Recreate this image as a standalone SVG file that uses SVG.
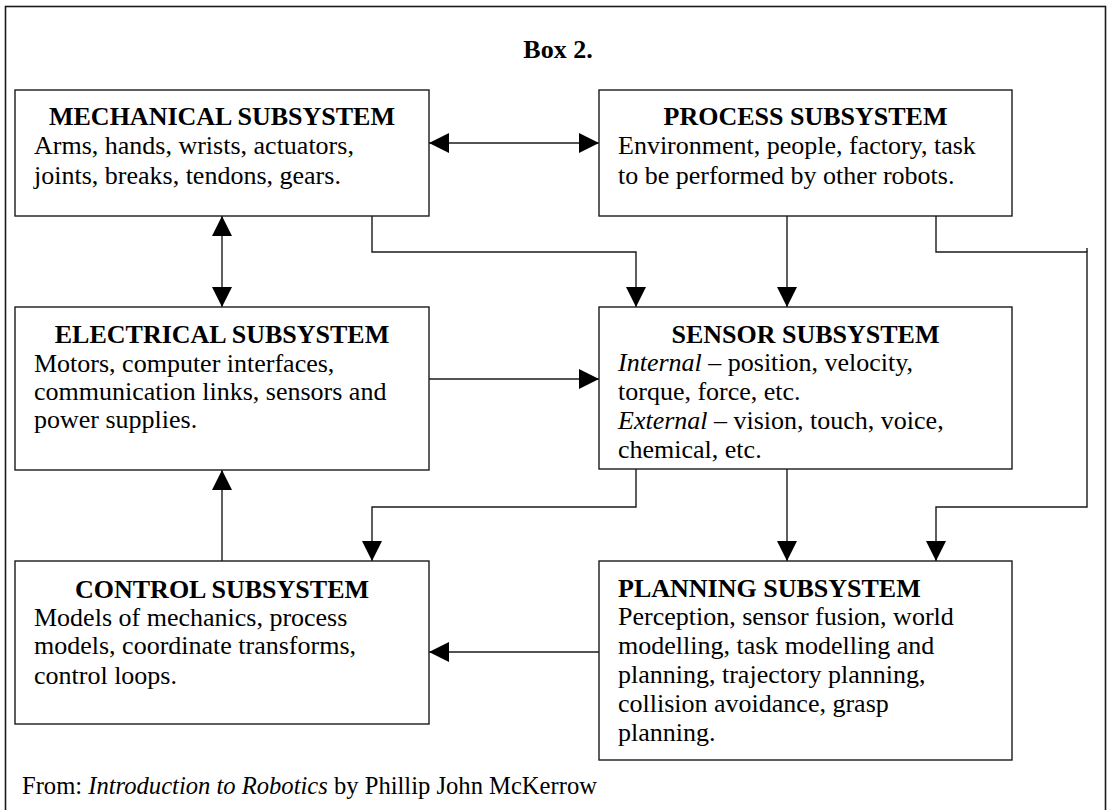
<svg xmlns="http://www.w3.org/2000/svg" width="1110" height="810" viewBox="0 0 1110 810">
<style>
  text { font-family: "Liberation Serif", "Times New Roman", serif; fill: #000; }
  .title { font-size: 26px; font-weight: bold; }
  .body { font-size: 26px; }
  .box { fill: #fff; stroke: #1a1a1a; stroke-width: 1.4; }
  .frame { fill: none; stroke: #1a1a1a; stroke-width: 1.6; }
  .conn { fill: none; stroke: #1a1a1a; stroke-width: 1.4; }
  .foot { font-size: 24.6px; }
</style>
<defs>
  <marker id="arr" markerUnits="userSpaceOnUse" markerWidth="20" markerHeight="20" refX="20" refY="10" orient="auto-start-reverse" viewBox="0 0 20 20">
    <path d="M0,0 L20,10 L0,20 z" fill="#000"/>
  </marker>
</defs>
<rect width="1110" height="810" fill="#fff"/>
<rect class="frame" x="5.5" y="6.5" width="1100" height="830"/>
<text class="title" x="558" y="58" text-anchor="middle" font-size="25">Box 2.</text>

<g id="connectors">
  <path class="conn" d="M429,143 H599" marker-start="url(#arr)" marker-end="url(#arr)"/>
  <path class="conn" d="M222,216 V307" marker-start="url(#arr)" marker-end="url(#arr)"/>
  <path class="conn" d="M372,216 V252 H636 V307" marker-end="url(#arr)"/>
  <path class="conn" d="M787,216 V307" marker-end="url(#arr)"/>
  <path class="conn" d="M936,216 V252 H1087 V507 H936 V561" marker-end="url(#arr)"/>
  <path class="conn" d="M1087,248 V252"/>
  <path class="conn" d="M429,379 H599" marker-end="url(#arr)"/>
  <path class="conn" d="M636,469 V507 H372 V561" marker-end="url(#arr)"/>
  <path class="conn" d="M787,469 V561" marker-end="url(#arr)"/>
  <path class="conn" d="M599,652 H429" marker-end="url(#arr)"/>
  <path class="conn" d="M222,561 V470" marker-end="url(#arr)"/>
</g>

<g id="mechanical">
  <rect class="box" x="15" y="90" width="414" height="126"/>
  <text class="title" x="222" y="125" text-anchor="middle">MECHANICAL SUBSYSTEM</text>
  <text class="body" x="34" y="154">Arms, hands, wrists, actuators,</text>
  <text class="body" x="34" y="184">joints, breaks, tendons, gears.</text>
</g>

<g id="process">
  <rect class="box" x="599" y="90" width="413" height="126"/>
  <text class="title" x="805.5" y="125" text-anchor="middle">PROCESS SUBSYSTEM</text>
  <text class="body" x="618" y="154">Environment, people, factory, task</text>
  <text class="body" x="618" y="184">to be performed by other robots.</text>
</g>

<g id="electrical">
  <rect class="box" x="15" y="307" width="414" height="163"/>
  <text class="title" x="222" y="343" text-anchor="middle">ELECTRICAL SUBSYSTEM</text>
  <text class="body" x="34" y="372">Motors, computer interfaces,</text>
  <text class="body" x="34" y="400">communication links, sensors and</text>
  <text class="body" x="34" y="428">power supplies.</text>
</g>

<g id="sensor">
  <rect class="box" x="599" y="307" width="413" height="162"/>
  <text class="title" x="805.5" y="343" text-anchor="middle">SENSOR SUBSYSTEM</text>
  <text class="body" x="618" y="371"><tspan font-style="italic">Internal</tspan> – position, velocity,</text>
  <text class="body" x="618" y="400">torque, force, etc.</text>
  <text class="body" x="618" y="429"><tspan font-style="italic">External</tspan> – vision, touch, voice,</text>
  <text class="body" x="618" y="458">chemical, etc.</text>
</g>

<g id="control">
  <rect class="box" x="15" y="561" width="414" height="163"/>
  <text class="title" x="222" y="598" text-anchor="middle">CONTROL SUBSYSTEM</text>
  <text class="body" x="34" y="626">Models of mechanics, process</text>
  <text class="body" x="34" y="654">models, coordinate transforms,</text>
  <text class="body" x="34" y="684">control loops.</text>
</g>

<g id="planning">
  <rect class="box" x="599" y="561" width="413" height="199"/>
  <text class="title" x="618" y="597">PLANNING SUBSYSTEM</text>
  <text class="body" x="618" y="625">Perception, sensor fusion, world</text>
  <text class="body" x="618" y="654">modelling, task modelling and</text>
  <text class="body" x="618" y="683">planning, trajectory planning,</text>
  <text class="body" x="618" y="712">collision avoidance, grasp</text>
  <text class="body" x="618" y="741">planning.</text>
</g>

<text class="foot" x="22" y="794">From: <tspan font-style="italic">Introduction to Robotics</tspan> by Phillip John McKerrow</text>
</svg>
